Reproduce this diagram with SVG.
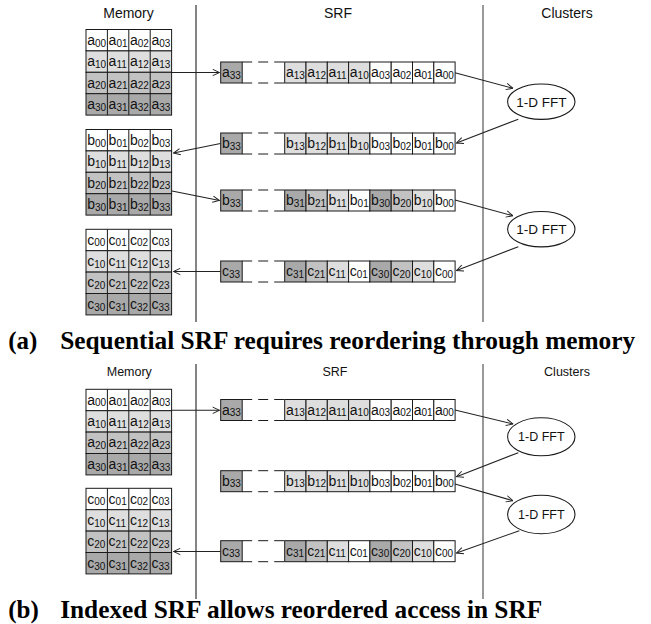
<svg xmlns="http://www.w3.org/2000/svg" xmlns:xlink="http://www.w3.org/1999/xlink" width="651" height="624" viewBox="0 0 651 624">
  <style>
    .bg { fill: #ffffff; }
    .cell { stroke: #1a1a1a; stroke-width: 1; }
    .w { fill: #ffffff; }
    .r1 { fill: #dedede; }
    .r2 { fill: #c2c2c2; }
    .r3 { fill: #a9a9a9; }
    .dash { fill: none; stroke: #1a1a1a; stroke-width: 1; stroke-dasharray: 10 6; }
    text { font-family: "Liberation Sans", Arial, sans-serif; fill: #111; }
    .t { font-size: 14px; }
    .s { font-size: 10px; }
    .hd1 { font-size: 14px; text-anchor: middle; }
    .hd2 { font-size: 12.5px; text-anchor: middle; }
    .fft1 { font-size: 13.5px; text-anchor: middle; }
    .fft2 { font-size: 12.5px; text-anchor: middle; }
    .cap { font-family: "Liberation Serif", "Times New Roman", serif; font-weight: bold; font-size: 25px; fill: #000; }
    .ell { fill: #ffffff; stroke: #1a1a1a; stroke-width: 1.1; }
    .con { fill: none; stroke: #222; stroke-width: 1.1; marker-end: url(#ah); }
    .div1 { stroke: #333; stroke-width: 1.2; }
    .div2 { stroke: #808080; stroke-width: 1.6; }
  </style>
  <defs>
    <marker id="ah" viewBox="0 0 10 10" refX="9.5" refY="5" markerWidth="8" markerHeight="8" orient="auto" markerUnits="userSpaceOnUse">
      <path d="M1,1 L9.5,5 L1,9" fill="none" stroke="#222" stroke-width="1.2"/>
    </marker>
    <!-- 4x4 memory block background: row shading darkens downwards -->
    <g id="memBg">
      <rect class="cell w" x="0" y="0" width="85.6" height="21.4"/>
      <rect class="cell r1" x="0" y="21.4" width="85.6" height="21.4"/>
      <rect class="cell r2" x="0" y="42.8" width="85.6" height="21.4"/>
      <rect class="cell r3" x="0" y="64.2" width="85.6" height="21.4"/>
      <path class="cell" fill="none" d="M21.4,0 V85.6 M42.8,0 V85.6 M64.2,0 V85.6"/>
    </g>
    <!-- SRF stream: last element, elided gap, then 8 records in row order -->
    <g id="srfSeq">
      <rect class="cell r3" x="0" y="0" width="21.5" height="21"/>
      <path class="dash" d="M21.5,0 H64 M21.5,21 H64"/>
      <rect class="cell r1" x="64" y="0" width="21.3" height="21"/>
      <rect class="cell r1" x="85.3" y="0" width="21.3" height="21"/>
      <rect class="cell r1" x="106.6" y="0" width="21.3" height="21"/>
      <rect class="cell r1" x="127.9" y="0" width="21.3" height="21"/>
      <rect class="cell w" x="149.2" y="0" width="21.3" height="21"/>
      <rect class="cell w" x="170.5" y="0" width="21.3" height="21"/>
      <rect class="cell w" x="191.8" y="0" width="21.3" height="21"/>
      <rect class="cell w" x="213.1" y="0" width="21.3" height="21"/>
    </g>
    <!-- SRF stream in column order -->
    <g id="srfCol">
      <rect class="cell r3" x="0" y="0" width="21.5" height="21"/>
      <path class="dash" d="M21.5,0 H64 M21.5,21 H64"/>
      <rect class="cell r3" x="64" y="0" width="21.3" height="21"/>
      <rect class="cell r2" x="85.3" y="0" width="21.3" height="21"/>
      <rect class="cell r1" x="106.6" y="0" width="21.3" height="21"/>
      <rect class="cell w" x="127.9" y="0" width="21.3" height="21"/>
      <rect class="cell r3" x="149.2" y="0" width="21.3" height="21"/>
      <rect class="cell r2" x="170.5" y="0" width="21.3" height="21"/>
      <rect class="cell r1" x="191.8" y="0" width="21.3" height="21"/>
      <rect class="cell w" x="213.1" y="0" width="21.3" height="21"/>
    </g>
  </defs>

  <rect class="bg" x="0" y="0" width="651" height="624"/>

  <!-- ===== Panel (a) ===== -->
  <g id="a-headings">
    <text class="hd1" x="128.5" y="18">Memory</text>
    <text class="hd1" x="338" y="18">SRF</text>
    <text class="hd1" x="567" y="18">Clusters</text>
  </g>
  <g id="a-dividers">
    <line class="div1" x1="196" y1="5" x2="196" y2="322"/>
    <line class="div2" x1="483" y1="5" x2="483" y2="322"/>
  </g>

  <g id="a-mem-a" transform="translate(86,29.5)">
    <use xlink:href="#memBg"/>
    <text class="t" x="1.2" y="15.3">a<tspan class="s" dy="1.8">00</tspan></text>
    <text class="t" x="22.6" y="15.3">a<tspan class="s" dy="1.8">01</tspan></text>
    <text class="t" x="44" y="15.3">a<tspan class="s" dy="1.8">02</tspan></text>
    <text class="t" x="65.4" y="15.3">a<tspan class="s" dy="1.8">03</tspan></text>
    <text class="t" x="1.2" y="36.7">a<tspan class="s" dy="1.8">10</tspan></text>
    <text class="t" x="22.6" y="36.7">a<tspan class="s" dy="1.8">11</tspan></text>
    <text class="t" x="44" y="36.7">a<tspan class="s" dy="1.8">12</tspan></text>
    <text class="t" x="65.4" y="36.7">a<tspan class="s" dy="1.8">13</tspan></text>
    <text class="t" x="1.2" y="58.1">a<tspan class="s" dy="1.8">20</tspan></text>
    <text class="t" x="22.6" y="58.1">a<tspan class="s" dy="1.8">21</tspan></text>
    <text class="t" x="44" y="58.1">a<tspan class="s" dy="1.8">22</tspan></text>
    <text class="t" x="65.4" y="58.1">a<tspan class="s" dy="1.8">23</tspan></text>
    <text class="t" x="1.2" y="79.5">a<tspan class="s" dy="1.8">30</tspan></text>
    <text class="t" x="22.6" y="79.5">a<tspan class="s" dy="1.8">31</tspan></text>
    <text class="t" x="44" y="79.5">a<tspan class="s" dy="1.8">32</tspan></text>
    <text class="t" x="65.4" y="79.5">a<tspan class="s" dy="1.8">33</tspan></text>
  </g>

  <g id="a-mem-b" transform="translate(86,129.5)">
    <use xlink:href="#memBg"/>
    <text class="t" x="1.2" y="15.3">b<tspan class="s" dy="1.8">00</tspan></text>
    <text class="t" x="22.6" y="15.3">b<tspan class="s" dy="1.8">01</tspan></text>
    <text class="t" x="44" y="15.3">b<tspan class="s" dy="1.8">02</tspan></text>
    <text class="t" x="65.4" y="15.3">b<tspan class="s" dy="1.8">03</tspan></text>
    <text class="t" x="1.2" y="36.7">b<tspan class="s" dy="1.8">10</tspan></text>
    <text class="t" x="22.6" y="36.7">b<tspan class="s" dy="1.8">11</tspan></text>
    <text class="t" x="44" y="36.7">b<tspan class="s" dy="1.8">12</tspan></text>
    <text class="t" x="65.4" y="36.7">b<tspan class="s" dy="1.8">13</tspan></text>
    <text class="t" x="1.2" y="58.1">b<tspan class="s" dy="1.8">20</tspan></text>
    <text class="t" x="22.6" y="58.1">b<tspan class="s" dy="1.8">21</tspan></text>
    <text class="t" x="44" y="58.1">b<tspan class="s" dy="1.8">22</tspan></text>
    <text class="t" x="65.4" y="58.1">b<tspan class="s" dy="1.8">23</tspan></text>
    <text class="t" x="1.2" y="79.5">b<tspan class="s" dy="1.8">30</tspan></text>
    <text class="t" x="22.6" y="79.5">b<tspan class="s" dy="1.8">31</tspan></text>
    <text class="t" x="44" y="79.5">b<tspan class="s" dy="1.8">32</tspan></text>
    <text class="t" x="65.4" y="79.5">b<tspan class="s" dy="1.8">33</tspan></text>
  </g>

  <g id="a-mem-c" transform="translate(86,229.3)">
    <use xlink:href="#memBg"/>
    <text class="t" x="1.2" y="15.3">c<tspan class="s" dy="1.8">00</tspan></text>
    <text class="t" x="22.6" y="15.3">c<tspan class="s" dy="1.8">01</tspan></text>
    <text class="t" x="44" y="15.3">c<tspan class="s" dy="1.8">02</tspan></text>
    <text class="t" x="65.4" y="15.3">c<tspan class="s" dy="1.8">03</tspan></text>
    <text class="t" x="1.2" y="36.7">c<tspan class="s" dy="1.8">10</tspan></text>
    <text class="t" x="22.6" y="36.7">c<tspan class="s" dy="1.8">11</tspan></text>
    <text class="t" x="44" y="36.7">c<tspan class="s" dy="1.8">12</tspan></text>
    <text class="t" x="65.4" y="36.7">c<tspan class="s" dy="1.8">13</tspan></text>
    <text class="t" x="1.2" y="58.1">c<tspan class="s" dy="1.8">20</tspan></text>
    <text class="t" x="22.6" y="58.1">c<tspan class="s" dy="1.8">21</tspan></text>
    <text class="t" x="44" y="58.1">c<tspan class="s" dy="1.8">22</tspan></text>
    <text class="t" x="65.4" y="58.1">c<tspan class="s" dy="1.8">23</tspan></text>
    <text class="t" x="1.2" y="79.5">c<tspan class="s" dy="1.8">30</tspan></text>
    <text class="t" x="22.6" y="79.5">c<tspan class="s" dy="1.8">31</tspan></text>
    <text class="t" x="44" y="79.5">c<tspan class="s" dy="1.8">32</tspan></text>
    <text class="t" x="65.4" y="79.5">c<tspan class="s" dy="1.8">33</tspan></text>
  </g>

  <g id="a-srf-a" transform="translate(220.7,62)">
    <use xlink:href="#srfSeq"/>
    <text class="t" x="1.2" y="15">a<tspan class="s" dy="1.8">33</tspan></text>
    <text class="t" x="65.2" y="15">a<tspan class="s" dy="1.8">13</tspan></text>
    <text class="t" x="86.5" y="15">a<tspan class="s" dy="1.8">12</tspan></text>
    <text class="t" x="107.8" y="15">a<tspan class="s" dy="1.8">11</tspan></text>
    <text class="t" x="129.1" y="15">a<tspan class="s" dy="1.8">10</tspan></text>
    <text class="t" x="150.4" y="15">a<tspan class="s" dy="1.8">03</tspan></text>
    <text class="t" x="171.7" y="15">a<tspan class="s" dy="1.8">02</tspan></text>
    <text class="t" x="193" y="15">a<tspan class="s" dy="1.8">01</tspan></text>
    <text class="t" x="214.3" y="15">a<tspan class="s" dy="1.8">00</tspan></text>
  </g>

  <g id="a-srf-b1" transform="translate(220.7,133)">
    <use xlink:href="#srfSeq"/>
    <text class="t" x="1.2" y="15">b<tspan class="s" dy="1.8">33</tspan></text>
    <text class="t" x="65.2" y="15">b<tspan class="s" dy="1.8">13</tspan></text>
    <text class="t" x="86.5" y="15">b<tspan class="s" dy="1.8">12</tspan></text>
    <text class="t" x="107.8" y="15">b<tspan class="s" dy="1.8">11</tspan></text>
    <text class="t" x="129.1" y="15">b<tspan class="s" dy="1.8">10</tspan></text>
    <text class="t" x="150.4" y="15">b<tspan class="s" dy="1.8">03</tspan></text>
    <text class="t" x="171.7" y="15">b<tspan class="s" dy="1.8">02</tspan></text>
    <text class="t" x="193" y="15">b<tspan class="s" dy="1.8">01</tspan></text>
    <text class="t" x="214.3" y="15">b<tspan class="s" dy="1.8">00</tspan></text>
  </g>

  <g id="a-srf-b2" transform="translate(220.7,190)">
    <use xlink:href="#srfCol"/>
    <text class="t" x="1.2" y="15">b<tspan class="s" dy="1.8">33</tspan></text>
    <text class="t" x="65.2" y="15">b<tspan class="s" dy="1.8">31</tspan></text>
    <text class="t" x="86.5" y="15">b<tspan class="s" dy="1.8">21</tspan></text>
    <text class="t" x="107.8" y="15">b<tspan class="s" dy="1.8">11</tspan></text>
    <text class="t" x="129.1" y="15">b<tspan class="s" dy="1.8">01</tspan></text>
    <text class="t" x="150.4" y="15">b<tspan class="s" dy="1.8">30</tspan></text>
    <text class="t" x="171.7" y="15">b<tspan class="s" dy="1.8">20</tspan></text>
    <text class="t" x="193" y="15">b<tspan class="s" dy="1.8">10</tspan></text>
    <text class="t" x="214.3" y="15">b<tspan class="s" dy="1.8">00</tspan></text>
  </g>

  <g id="a-srf-c" transform="translate(220.7,261)">
    <use xlink:href="#srfCol"/>
    <text class="t" x="1.2" y="15">c<tspan class="s" dy="1.8">33</tspan></text>
    <text class="t" x="65.2" y="15">c<tspan class="s" dy="1.8">31</tspan></text>
    <text class="t" x="86.5" y="15">c<tspan class="s" dy="1.8">21</tspan></text>
    <text class="t" x="107.8" y="15">c<tspan class="s" dy="1.8">11</tspan></text>
    <text class="t" x="129.1" y="15">c<tspan class="s" dy="1.8">01</tspan></text>
    <text class="t" x="150.4" y="15">c<tspan class="s" dy="1.8">30</tspan></text>
    <text class="t" x="171.7" y="15">c<tspan class="s" dy="1.8">20</tspan></text>
    <text class="t" x="193" y="15">c<tspan class="s" dy="1.8">10</tspan></text>
    <text class="t" x="214.3" y="15">c<tspan class="s" dy="1.8">00</tspan></text>
  </g>

  <g id="a-fft-1">
    <ellipse class="ell" cx="541.3" cy="101.7" rx="33.7" ry="17.7"/>
    <text class="fft1" x="541.3" y="106.5">1-D FFT</text>
  </g>
  <g id="a-fft-2">
    <ellipse class="ell" cx="541.3" cy="229.2" rx="33.7" ry="17.7"/>
    <text class="fft1" x="541.3" y="234">1-D FFT</text>
  </g>

  <g id="a-connectors">
    <line class="con" x1="172" y1="72.5" x2="219.5" y2="72.5"/>
    <line class="con" x1="220.5" y1="143.5" x2="173.5" y2="153"/>
    <line class="con" x1="172" y1="191" x2="219.5" y2="200.5"/>
    <line class="con" x1="220.5" y1="271.5" x2="173.5" y2="271.5"/>
    <line class="con" x1="455" y1="72.7" x2="513" y2="88.3"/>
    <line class="con" x1="518.3" y1="119.2" x2="456.5" y2="143"/>
    <line class="con" x1="455" y1="200" x2="513" y2="215.8"/>
    <line class="con" x1="518.3" y1="246.7" x2="456.5" y2="270.5"/>
  </g>

  <g id="a-caption">
    <text class="cap" x="8.3" y="349">(a)</text>
    <text class="cap" x="60.2" y="349" textLength="575" lengthAdjust="spacingAndGlyphs">Sequential SRF requires reordering through memory</text>
  </g>

  <!-- ===== Panel (b) ===== -->
  <g id="b-headings">
    <text class="hd2" x="129.3" y="376">Memory</text>
    <text class="hd2" x="335" y="376">SRF</text>
    <text class="hd2" x="567" y="376">Clusters</text>
  </g>
  <g id="b-dividers">
    <line class="div1" x1="196" y1="364" x2="196" y2="599"/>
    <line class="div2" x1="483" y1="364" x2="483" y2="599"/>
  </g>

  <g id="b-mem-a" transform="translate(86,389.3)">
    <use xlink:href="#memBg"/>
    <text class="t" x="1.2" y="15.3">a<tspan class="s" dy="1.8">00</tspan></text>
    <text class="t" x="22.6" y="15.3">a<tspan class="s" dy="1.8">01</tspan></text>
    <text class="t" x="44" y="15.3">a<tspan class="s" dy="1.8">02</tspan></text>
    <text class="t" x="65.4" y="15.3">a<tspan class="s" dy="1.8">03</tspan></text>
    <text class="t" x="1.2" y="36.7">a<tspan class="s" dy="1.8">10</tspan></text>
    <text class="t" x="22.6" y="36.7">a<tspan class="s" dy="1.8">11</tspan></text>
    <text class="t" x="44" y="36.7">a<tspan class="s" dy="1.8">12</tspan></text>
    <text class="t" x="65.4" y="36.7">a<tspan class="s" dy="1.8">13</tspan></text>
    <text class="t" x="1.2" y="58.1">a<tspan class="s" dy="1.8">20</tspan></text>
    <text class="t" x="22.6" y="58.1">a<tspan class="s" dy="1.8">21</tspan></text>
    <text class="t" x="44" y="58.1">a<tspan class="s" dy="1.8">22</tspan></text>
    <text class="t" x="65.4" y="58.1">a<tspan class="s" dy="1.8">23</tspan></text>
    <text class="t" x="1.2" y="79.5">a<tspan class="s" dy="1.8">30</tspan></text>
    <text class="t" x="22.6" y="79.5">a<tspan class="s" dy="1.8">31</tspan></text>
    <text class="t" x="44" y="79.5">a<tspan class="s" dy="1.8">32</tspan></text>
    <text class="t" x="65.4" y="79.5">a<tspan class="s" dy="1.8">33</tspan></text>
  </g>

  <g id="b-mem-c" transform="translate(86,488.3)">
    <use xlink:href="#memBg"/>
    <text class="t" x="1.2" y="15.3">c<tspan class="s" dy="1.8">00</tspan></text>
    <text class="t" x="22.6" y="15.3">c<tspan class="s" dy="1.8">01</tspan></text>
    <text class="t" x="44" y="15.3">c<tspan class="s" dy="1.8">02</tspan></text>
    <text class="t" x="65.4" y="15.3">c<tspan class="s" dy="1.8">03</tspan></text>
    <text class="t" x="1.2" y="36.7">c<tspan class="s" dy="1.8">10</tspan></text>
    <text class="t" x="22.6" y="36.7">c<tspan class="s" dy="1.8">11</tspan></text>
    <text class="t" x="44" y="36.7">c<tspan class="s" dy="1.8">12</tspan></text>
    <text class="t" x="65.4" y="36.7">c<tspan class="s" dy="1.8">13</tspan></text>
    <text class="t" x="1.2" y="58.1">c<tspan class="s" dy="1.8">20</tspan></text>
    <text class="t" x="22.6" y="58.1">c<tspan class="s" dy="1.8">21</tspan></text>
    <text class="t" x="44" y="58.1">c<tspan class="s" dy="1.8">22</tspan></text>
    <text class="t" x="65.4" y="58.1">c<tspan class="s" dy="1.8">23</tspan></text>
    <text class="t" x="1.2" y="79.5">c<tspan class="s" dy="1.8">30</tspan></text>
    <text class="t" x="22.6" y="79.5">c<tspan class="s" dy="1.8">31</tspan></text>
    <text class="t" x="44" y="79.5">c<tspan class="s" dy="1.8">32</tspan></text>
    <text class="t" x="65.4" y="79.5">c<tspan class="s" dy="1.8">33</tspan></text>
  </g>

  <g id="b-srf-a" transform="translate(220.7,399.5)">
    <use xlink:href="#srfSeq"/>
    <text class="t" x="1.2" y="15">a<tspan class="s" dy="1.8">33</tspan></text>
    <text class="t" x="65.2" y="15">a<tspan class="s" dy="1.8">13</tspan></text>
    <text class="t" x="86.5" y="15">a<tspan class="s" dy="1.8">12</tspan></text>
    <text class="t" x="107.8" y="15">a<tspan class="s" dy="1.8">11</tspan></text>
    <text class="t" x="129.1" y="15">a<tspan class="s" dy="1.8">10</tspan></text>
    <text class="t" x="150.4" y="15">a<tspan class="s" dy="1.8">03</tspan></text>
    <text class="t" x="171.7" y="15">a<tspan class="s" dy="1.8">02</tspan></text>
    <text class="t" x="193" y="15">a<tspan class="s" dy="1.8">01</tspan></text>
    <text class="t" x="214.3" y="15">a<tspan class="s" dy="1.8">00</tspan></text>
  </g>

  <g id="b-srf-b" transform="translate(220.7,470.7)">
    <use xlink:href="#srfSeq"/>
    <text class="t" x="1.2" y="15">b<tspan class="s" dy="1.8">33</tspan></text>
    <text class="t" x="65.2" y="15">b<tspan class="s" dy="1.8">13</tspan></text>
    <text class="t" x="86.5" y="15">b<tspan class="s" dy="1.8">12</tspan></text>
    <text class="t" x="107.8" y="15">b<tspan class="s" dy="1.8">11</tspan></text>
    <text class="t" x="129.1" y="15">b<tspan class="s" dy="1.8">10</tspan></text>
    <text class="t" x="150.4" y="15">b<tspan class="s" dy="1.8">03</tspan></text>
    <text class="t" x="171.7" y="15">b<tspan class="s" dy="1.8">02</tspan></text>
    <text class="t" x="193" y="15">b<tspan class="s" dy="1.8">01</tspan></text>
    <text class="t" x="214.3" y="15">b<tspan class="s" dy="1.8">00</tspan></text>
  </g>

  <g id="b-srf-c" transform="translate(220.7,540.7)">
    <use xlink:href="#srfCol"/>
    <text class="t" x="1.2" y="15">c<tspan class="s" dy="1.8">33</tspan></text>
    <text class="t" x="65.2" y="15">c<tspan class="s" dy="1.8">31</tspan></text>
    <text class="t" x="86.5" y="15">c<tspan class="s" dy="1.8">21</tspan></text>
    <text class="t" x="107.8" y="15">c<tspan class="s" dy="1.8">11</tspan></text>
    <text class="t" x="129.1" y="15">c<tspan class="s" dy="1.8">01</tspan></text>
    <text class="t" x="150.4" y="15">c<tspan class="s" dy="1.8">30</tspan></text>
    <text class="t" x="171.7" y="15">c<tspan class="s" dy="1.8">20</tspan></text>
    <text class="t" x="193" y="15">c<tspan class="s" dy="1.8">10</tspan></text>
    <text class="t" x="214.3" y="15">c<tspan class="s" dy="1.8">00</tspan></text>
  </g>

  <g id="b-fft-1">
    <ellipse class="ell" cx="541.3" cy="436.8" rx="33.7" ry="19"/>
    <text class="fft2" x="541.3" y="441.2">1-D FFT</text>
  </g>
  <g id="b-fft-2">
    <ellipse class="ell" cx="541.3" cy="514.5" rx="33.7" ry="19.3"/>
    <text class="fft2" x="541.3" y="518.9">1-D FFT</text>
  </g>

  <g id="b-connectors">
    <line class="con" x1="172" y1="410.3" x2="219.5" y2="410.3"/>
    <line class="con" x1="220.5" y1="551.5" x2="173.5" y2="551.5"/>
    <line class="con" x1="455" y1="410" x2="513" y2="424"/>
    <line class="con" x1="518.3" y1="452.7" x2="456.5" y2="476.7"/>
    <line class="con" x1="455" y1="484" x2="513" y2="500.7"/>
    <line class="con" x1="519.3" y1="530.7" x2="456.5" y2="553"/>
  </g>

  <g id="b-caption">
    <text class="cap" x="8.3" y="618">(b)</text>
    <text class="cap" x="60.2" y="618" textLength="482" lengthAdjust="spacingAndGlyphs">Indexed SRF allows reordered access in SRF</text>
  </g>
</svg>
